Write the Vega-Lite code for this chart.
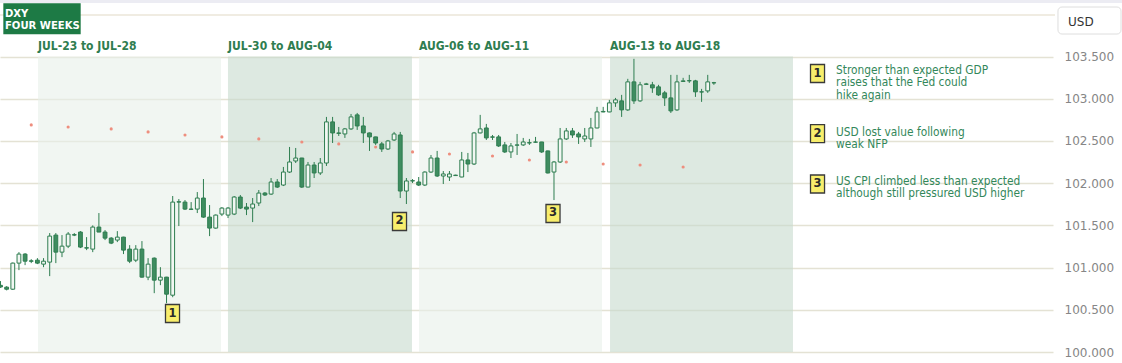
{
  "$schema": "https://vega.github.io/schema/vega-lite/v6.json",
  "width": 1053,
  "height": 352,
  "autosize": {"type": "none"},
  "padding": {"left": 0, "top": 0, "right": 69, "bottom": 11},
  "background": "white",
  "config": {"view": {"stroke": null}, "scale": {"continuousPadding": 0}},
  "datasets": {
    "bands": [
      {"week": "JUL-23 to JUL-28", "start": 6.1, "end": 35.85},
      {"week": "JUL-30 to AUG-04", "start": 36.99, "end": 66.91},
      {"week": "AUG-06 to AUG-11", "start": 68.05, "end": 97.81},
      {"week": "AUG-13 to AUG-18", "start": 99.11, "end": 128.86}
    ],
    "dots": [
      {"n": 5, "v": 102.69}, {"n": 11, "v": 102.666}, {"n": 18, "v": 102.643}, {"n": 24, "v": 102.607},
      {"n": 30, "v": 102.571}, {"n": 36, "v": 102.548}, {"n": 42, "v": 102.524}, {"n": 49, "v": 102.488},
      {"n": 55, "v": 102.465}, {"n": 61, "v": 102.429}, {"n": 67, "v": 102.37}, {"n": 73, "v": 102.346},
      {"n": 80, "v": 102.322}, {"n": 86, "v": 102.275}, {"n": 92, "v": 102.251}, {"n": 98, "v": 102.227},
      {"n": 104, "v": 102.215}, {"n": 111, "v": 102.192}
    ],
    "candles": [
      {"n":0,"o":100.79,"h":100.84,"l":100.76,"c":100.77},
      {"n":1,"o":100.768,"h":100.78,"l":100.73,"c":100.744},
      {"n":2,"o":100.744,"h":101.06,"l":100.735,"c":101.053},
      {"n":3,"o":101.053,"h":101.183,"l":100.97,"c":101.16},
      {"n":4,"o":101.16,"h":101.171,"l":101.029,"c":101.076},
      {"n":5,"o":101.08,"h":101.1,"l":101.053,"c":101.075},
      {"n":6,"o":101.088,"h":101.112,"l":101.041,"c":101.053},
      {"n":7,"o":101.041,"h":101.112,"l":101.005,"c":101.076},
      {"n":8,"o":101.065,"h":101.409,"l":100.899,"c":101.373},
      {"n":9,"o":101.385,"h":101.409,"l":101.053,"c":101.183},
      {"n":10,"o":101.183,"h":101.385,"l":101.124,"c":101.254},
      {"n":11,"o":101.254,"h":101.421,"l":101.231,"c":101.397},
      {"n":12,"o":101.39,"h":101.409,"l":101.373,"c":101.385},
      {"n":13,"o":101.421,"h":101.432,"l":101.231,"c":101.243},
      {"n":14,"o":101.235,"h":101.361,"l":101.207,"c":101.231},
      {"n":15,"o":101.219,"h":101.5,"l":101.183,"c":101.48},
      {"n":16,"o":101.48,"h":101.646,"l":101.421,"c":101.421},
      {"n":17,"o":101.421,"h":101.444,"l":101.326,"c":101.349},
      {"n":18,"o":101.349,"h":101.361,"l":101.278,"c":101.29},
      {"n":19,"o":101.326,"h":101.432,"l":101.302,"c":101.361},
      {"n":20,"o":101.361,"h":101.365,"l":101.16,"c":101.207},
      {"n":21,"o":101.219,"h":101.266,"l":101.053,"c":101.076},
      {"n":22,"o":101.088,"h":101.266,"l":101.065,"c":101.219},
      {"n":23,"o":101.219,"h":101.314,"l":100.88,"c":100.887},
      {"n":24,"o":100.887,"h":101.112,"l":100.851,"c":101.041},
      {"n":25,"o":101.112,"h":101.12,"l":100.697,"c":100.851},
      {"n":26,"o":100.851,"h":101.005,"l":100.792,"c":100.887},
      {"n":27,"o":100.887,"h":100.89,"l":100.578,"c":100.685},
      {"n":28,"o":100.673,"h":101.848,"l":100.649,"c":101.776},
      {"n":29,"o":101.776,"h":101.812,"l":101.492,"c":101.78},
      {"n":30,"o":101.776,"h":101.8,"l":101.682,"c":101.693},
      {"n":31,"o":101.693,"h":101.776,"l":101.682,"c":101.69},
      {"n":32,"o":101.693,"h":101.895,"l":101.646,"c":101.824},
      {"n":33,"o":101.824,"h":102.049,"l":101.59,"c":101.598},
      {"n":34,"o":101.598,"h":101.741,"l":101.373,"c":101.468},
      {"n":35,"o":101.468,"h":101.63,"l":101.46,"c":101.622},
      {"n":36,"o":101.634,"h":101.717,"l":101.61,"c":101.705},
      {"n":37,"o":101.622,"h":101.717,"l":101.587,"c":101.705},
      {"n":38,"o":101.634,"h":101.848,"l":101.622,"c":101.836},
      {"n":39,"o":101.836,"h":101.86,"l":101.693,"c":101.705},
      {"n":40,"o":101.717,"h":101.765,"l":101.622,"c":101.693},
      {"n":41,"o":101.705,"h":101.824,"l":101.539,"c":101.753},
      {"n":42,"o":101.765,"h":101.919,"l":101.729,"c":101.883},
      {"n":43,"o":101.883,"h":101.895,"l":101.848,"c":101.86},
      {"n":44,"o":101.871,"h":102.061,"l":101.86,"c":102.014},
      {"n":45,"o":102.014,"h":102.049,"l":101.943,"c":101.954},
      {"n":46,"o":101.978,"h":102.192,"l":101.966,"c":102.132},
      {"n":47,"o":102.132,"h":102.429,"l":102.121,"c":102.251},
      {"n":48,"o":102.263,"h":102.417,"l":102.239,"c":102.298},
      {"n":49,"o":102.298,"h":102.3,"l":101.943,"c":101.954},
      {"n":50,"o":101.954,"h":102.251,"l":101.95,"c":102.215},
      {"n":51,"o":102.215,"h":102.251,"l":102.061,"c":102.121},
      {"n":52,"o":102.121,"h":102.298,"l":102.097,"c":102.239},
      {"n":53,"o":102.239,"h":102.785,"l":102.204,"c":102.726},
      {"n":54,"o":102.726,"h":102.785,"l":102.476,"c":102.595},
      {"n":55,"o":102.595,"h":102.666,"l":102.559,"c":102.59},
      {"n":56,"o":102.583,"h":102.654,"l":102.536,"c":102.643},
      {"n":57,"o":102.643,"h":102.82,"l":102.631,"c":102.785},
      {"n":58,"o":102.809,"h":102.832,"l":102.631,"c":102.678},
      {"n":59,"o":102.678,"h":102.785,"l":102.476,"c":102.595},
      {"n":60,"o":102.595,"h":102.6,"l":102.382,"c":102.548},
      {"n":61,"o":102.548,"h":102.55,"l":102.453,"c":102.476},
      {"n":62,"o":102.465,"h":102.488,"l":102.37,"c":102.405},
      {"n":63,"o":102.405,"h":102.512,"l":102.393,"c":102.5},
      {"n":64,"o":102.512,"h":102.607,"l":102.5,"c":102.583},
      {"n":65,"o":102.571,"h":102.607,"l":101.824,"c":101.907},
      {"n":66,"o":101.907,"h":102.061,"l":101.753,"c":102.026},
      {"n":67,"o":102.026,"h":102.049,"l":102.002,"c":102.03},
      {"n":68,"o":102.014,"h":102.073,"l":101.966,"c":101.978},
      {"n":69,"o":101.978,"h":102.14,"l":101.966,"c":102.132},
      {"n":70,"o":102.132,"h":102.334,"l":102.121,"c":102.298},
      {"n":71,"o":102.298,"h":102.382,"l":102.073,"c":102.085},
      {"n":72,"o":102.085,"h":102.144,"l":101.99,"c":102.109},
      {"n":73,"o":102.073,"h":102.144,"l":102.026,"c":102.109},
      {"n":74,"o":102.09,"h":102.1,"l":102.085,"c":102.095},
      {"n":75,"o":102.073,"h":102.37,"l":102.07,"c":102.275},
      {"n":76,"o":102.275,"h":102.358,"l":102.132,"c":102.227},
      {"n":77,"o":102.227,"h":102.607,"l":102.215,"c":102.595},
      {"n":78,"o":102.595,"h":102.809,"l":102.59,"c":102.643},
      {"n":79,"o":102.654,"h":102.702,"l":102.512,"c":102.536},
      {"n":80,"o":102.548,"h":102.571,"l":102.512,"c":102.545},
      {"n":81,"o":102.548,"h":102.571,"l":102.429,"c":102.441},
      {"n":82,"o":102.453,"h":102.488,"l":102.358,"c":102.37},
      {"n":83,"o":102.37,"h":102.476,"l":102.298,"c":102.441},
      {"n":84,"o":102.45,"h":102.583,"l":102.334,"c":102.453},
      {"n":85,"o":102.453,"h":102.536,"l":102.441,"c":102.488},
      {"n":86,"o":102.476,"h":102.524,"l":102.453,"c":102.48},
      {"n":87,"o":102.485,"h":102.548,"l":102.476,"c":102.488},
      {"n":88,"o":102.488,"h":102.49,"l":102.358,"c":102.37},
      {"n":89,"o":102.382,"h":102.385,"l":102.115,"c":102.121},
      {"n":90,"o":102.132,"h":102.263,"l":101.8,"c":102.251},
      {"n":91,"o":102.251,"h":102.654,"l":102.239,"c":102.524},
      {"n":92,"o":102.524,"h":102.654,"l":102.512,"c":102.619},
      {"n":93,"o":102.619,"h":102.654,"l":102.536,"c":102.571},
      {"n":94,"o":102.583,"h":102.607,"l":102.465,"c":102.548},
      {"n":95,"o":102.524,"h":102.654,"l":102.488,"c":102.559},
      {"n":96,"o":102.524,"h":102.773,"l":102.429,"c":102.654},
      {"n":97,"o":102.654,"h":102.904,"l":102.65,"c":102.844},
      {"n":98,"o":102.844,"h":102.904,"l":102.84,"c":102.85},
      {"n":99,"o":102.844,"h":102.987,"l":102.84,"c":102.951},
      {"n":100,"o":102.951,"h":103.01,"l":102.904,"c":102.987},
      {"n":101,"o":102.975,"h":103.046,"l":102.785,"c":102.868},
      {"n":102,"o":102.868,"h":103.236,"l":102.856,"c":103.2},
      {"n":103,"o":103.2,"h":103.473,"l":102.939,"c":102.975},
      {"n":104,"o":102.975,"h":103.2,"l":102.963,"c":103.165},
      {"n":105,"o":103.17,"h":103.188,"l":103.165,"c":103.176},
      {"n":106,"o":103.165,"h":103.2,"l":103.07,"c":103.129},
      {"n":107,"o":103.141,"h":103.165,"l":103.034,"c":103.046},
      {"n":108,"o":103.07,"h":103.093,"l":102.915,"c":103.01},
      {"n":109,"o":103.01,"h":103.283,"l":102.832,"c":102.856},
      {"n":110,"o":102.868,"h":103.283,"l":102.856,"c":103.2},
      {"n":111,"o":103.205,"h":103.248,"l":103.2,"c":103.212},
      {"n":112,"o":103.212,"h":103.283,"l":103.188,"c":103.215},
      {"n":113,"o":103.212,"h":103.224,"l":103.022,"c":103.082},
      {"n":114,"o":103.082,"h":103.117,"l":102.963,"c":103.08},
      {"n":115,"o":103.093,"h":103.283,"l":103.07,"c":103.2},
      {"n":116,"o":103.19,"h":103.2,"l":103.165,"c":103.188}
    ],
    "markers": [
      {"id": "1", "n": 27.97, "v": 100.456},
      {"id": "2", "n": 64.88, "v": 101.546},
      {"id": "3", "n": 89.84, "v": 101.641},
      {"id": "1", "n": 132.85, "v": 103.299},
      {"id": "2", "n": 132.85, "v": 102.588},
      {"id": "3", "n": 132.85, "v": 101.99}
    ],
    "notes": [
      {"t": "Stronger than expected GDP", "v": 103.341},
      {"t": "raises that the Fed could", "v": 103.195},
      {"t": "hike again", "v": 103.048},
      {"t": "USD lost value following", "v": 102.61},
      {"t": "weak NFP", "v": 102.47},
      {"t": "US CPI climbed less than expected", "v": 102.026},
      {"t": "although still pressured USD higher", "v": 101.883}
    ],
    "title": [
      {"t": "DXY", "v": 104.0},
      {"t": "FOUR WEEKS", "v": 103.858}
    ]
  },
  "layer": [
    {
      "data": {"name": "bands"},
      "mark": {"type": "rect", "opacity": 0.6},
      "encoding": {
        "x": {"field": "start", "type": "quantitative", "scale": {"domain": [-0.08, 171.14], "padding": 0, "nice": false, "zero": false}, "axis": null},
        "x2": {"field": "end"},
        "y": {"datum": 100, "type": "quantitative", "title": null, "scale": {"domain": [100, 104.17], "padding": 0, "nice": false, "zero": false},
          "axis": {"orient": "right", "title": null, "values": [100, 100.5, 101, 101.5, 102, 102.5, 103, 103.5],
            "format": ".3f", "grid": true, "gridColor": "#e4e2d4", "gridWidth": 1.5, "domain": false, "ticks": false,
            "labelPadding": 11, "labelColor": "#868686", "labelFont": "DejaVu Sans", "labelFontSize": 12}},
        "y2": {"datum": 103.5},
        "fill": {"field": "week", "type": "nominal", "legend": null,
          "scale": {"domain": ["JUL-23 to JUL-28", "JUL-30 to AUG-04", "AUG-06 to AUG-11", "AUG-13 to AUG-18"],
            "range": ["#e8f0e9", "#c6dacd", "#e8f0e9", "#c6dacd"]}}
      }
    },
    {
      "data": {"values": [{}]},
      "mark": {"type": "rect", "color": "#ececf3"},
      "encoding": {
        "x": {"datum": -0.08, "type": "quantitative", "scale": {"domain": [-0.08, 171.14], "padding": 0, "nice": false, "zero": false}, "axis": null},
        "x2": {"datum": 182.36},
        "y": {"datum": 104.17, "type": "quantitative", "title": null, "scale": {"domain": [100, 104.17], "padding": 0, "nice": false, "zero": false}},
        "y2": {"datum": 104.134}
      }
    },
    {
      "data": {"values": [{}]},
      "mark": {"type": "rule", "color": "#ebe6d8", "strokeWidth": 1.5},
      "encoding": {
        "x": {"datum": -0.08, "type": "quantitative", "scale": {"domain": [-0.08, 171.14], "padding": 0, "nice": false, "zero": false}, "axis": null},
        "x2": {"datum": 171.46},
        "y": {"datum": 103.992, "type": "quantitative", "title": null, "scale": {"domain": [100, 104.17], "padding": 0, "nice": false, "zero": false}}
      }
    },
    {
      "data": {"values": [{}]},
      "mark": {"type": "rect", "color": "#1d7a45"},
      "encoding": {
        "x": {"datum": 0.46, "type": "quantitative", "scale": {"domain": [-0.08, 171.14], "padding": 0, "nice": false, "zero": false}, "axis": null},
        "x2": {"datum": 13.04},
        "y": {"datum": 104.131, "type": "quantitative", "title": null, "scale": {"domain": [100, 104.17], "padding": 0, "nice": false, "zero": false}},
        "y2": {"datum": 103.764}
      }
    },
    {
      "data": {"name": "title"},
      "mark": {"type": "text", "align": "left", "baseline": "middle", "color": "white", "font": "DejaVu Sans Condensed", "fontWeight": "bold", "fontSize": 11.2},
      "encoding": {
        "x": {"datum": 0.73, "type": "quantitative", "scale": {"domain": [-0.08, 171.14], "padding": 0, "nice": false, "zero": false}, "axis": null},
        "y": {"field": "v", "type": "quantitative", "title": null, "scale": {"domain": [100, 104.17], "padding": 0, "nice": false, "zero": false}},
        "text": {"field": "t"}
      }
    },
    {
      "data": {"name": "bands"},
      "mark": {"type": "text", "align": "left", "baseline": "middle", "color": "#2f7d50", "font": "DejaVu Sans Condensed", "fontWeight": "bold", "fontSize": 12},
      "encoding": {
        "x": {"field": "start", "type": "quantitative", "scale": {"domain": [-0.08, 171.14], "padding": 0, "nice": false, "zero": false}, "axis": null},
        "y": {"datum": 103.625, "type": "quantitative", "title": null, "scale": {"domain": [100, 104.17], "padding": 0, "nice": false, "zero": false}},
        "text": {"field": "week"}
      }
    },
    {
      "data": {"name": "dots"},
      "mark": {"type": "point", "filled": true, "size": 10, "color": "#ee8e7e", "opacity": 1},
      "encoding": {
        "x": {"field": "n", "type": "quantitative", "scale": {"domain": [-0.08, 171.14], "padding": 0, "nice": false, "zero": false}, "axis": null},
        "y": {"field": "v", "type": "quantitative", "title": null, "scale": {"domain": [100, 104.17], "padding": 0, "nice": false, "zero": false}}
      }
    },
    {
      "data": {"name": "candles"},
      "mark": {"type": "rule", "color": "#2e7d50", "strokeWidth": 1},
      "encoding": {
        "x": {"field": "n", "type": "quantitative", "scale": {"domain": [-0.08, 171.14], "padding": 0, "nice": false, "zero": false}, "axis": null},
        "y": {"field": "l", "type": "quantitative", "title": null, "scale": {"domain": [100, 104.17], "padding": 0, "nice": false, "zero": false}},
        "y2": {"field": "h"}
      }
    },
    {
      "data": {"name": "candles"},
      "mark": {"type": "bar", "size": 3.8, "stroke": "#2e7d50", "strokeWidth": 1},
      "encoding": {
        "x": {"field": "n", "type": "quantitative", "scale": {"domain": [-0.08, 171.14], "padding": 0, "nice": false, "zero": false}, "axis": null},
        "y": {"field": "o", "type": "quantitative", "title": null, "scale": {"domain": [100, 104.17], "padding": 0, "nice": false, "zero": false}},
        "y2": {"field": "c"},
        "fill": {"condition": {"test": "datum.c >= datum.o", "value": "#f2f7f3"}, "value": "#3f8d60"}
      }
    },
    {
      "data": {"name": "markers"},
      "mark": {"type": "point", "filled": true, "shape": "M-0.78,-1H0.78V1H-0.78Z", "size": 324, "fill": "#f8ee6c", "stroke": "#3a3a3a", "strokeWidth": 1.3, "opacity": 1},
      "encoding": {
        "x": {"field": "n", "type": "quantitative", "scale": {"domain": [-0.08, 171.14], "padding": 0, "nice": false, "zero": false}, "axis": null},
        "y": {"field": "v", "type": "quantitative", "title": null, "scale": {"domain": [100, 104.17], "padding": 0, "nice": false, "zero": false}}
      }
    },
    {
      "data": {"name": "markers"},
      "mark": {"type": "text", "align": "center", "baseline": "middle", "color": "#2a2a2a", "font": "DejaVu Sans", "fontWeight": "bold", "fontSize": 11.5},
      "encoding": {
        "x": {"field": "n", "type": "quantitative", "scale": {"domain": [-0.08, 171.14], "padding": 0, "nice": false, "zero": false}, "axis": null},
        "y": {"field": "v", "type": "quantitative", "title": null, "scale": {"domain": [100, 104.17], "padding": 0, "nice": false, "zero": false}},
        "text": {"field": "id"}
      }
    },
    {
      "data": {"name": "notes"},
      "mark": {"type": "text", "align": "left", "baseline": "middle", "color": "#33875a", "font": "DejaVu Sans Condensed", "fontSize": 11.8},
      "encoding": {
        "x": {"datum": 135.86, "type": "quantitative", "scale": {"domain": [-0.08, 171.14], "padding": 0, "nice": false, "zero": false}, "axis": null},
        "y": {"field": "v", "type": "quantitative", "title": null, "scale": {"domain": [100, 104.17], "padding": 0, "nice": false, "zero": false}},
        "text": {"field": "t"}
      }
    },
    {
      "data": {"values": [{}]},
      "mark": {"type": "rect", "fill": "white", "stroke": "#dedede", "strokeWidth": 1, "cornerRadius": 4},
      "encoding": {
        "x": {"datum": 171.95, "type": "quantitative", "scale": {"domain": [-0.08, 171.14], "padding": 0, "nice": false, "zero": false}, "axis": null},
        "x2": {"datum": 182.2},
        "y": {"datum": 104.087, "type": "quantitative", "title": null, "scale": {"domain": [100, 104.17], "padding": 0, "nice": false, "zero": false}},
        "y2": {"datum": 103.767}
      }
    },
    {
      "data": {"values": [{"t": "USD"}]},
      "mark": {"type": "text", "align": "left", "baseline": "middle", "color": "#333333", "font": "DejaVu Sans", "fontSize": 12},
      "encoding": {
        "x": {"datum": 173.58, "type": "quantitative", "scale": {"domain": [-0.08, 171.14], "padding": 0, "nice": false, "zero": false}, "axis": null},
        "y": {"datum": 103.913, "type": "quantitative", "title": null, "scale": {"domain": [100, 104.17], "padding": 0, "nice": false, "zero": false}},
        "text": {"field": "t"}
      }
    }
  ]
}
